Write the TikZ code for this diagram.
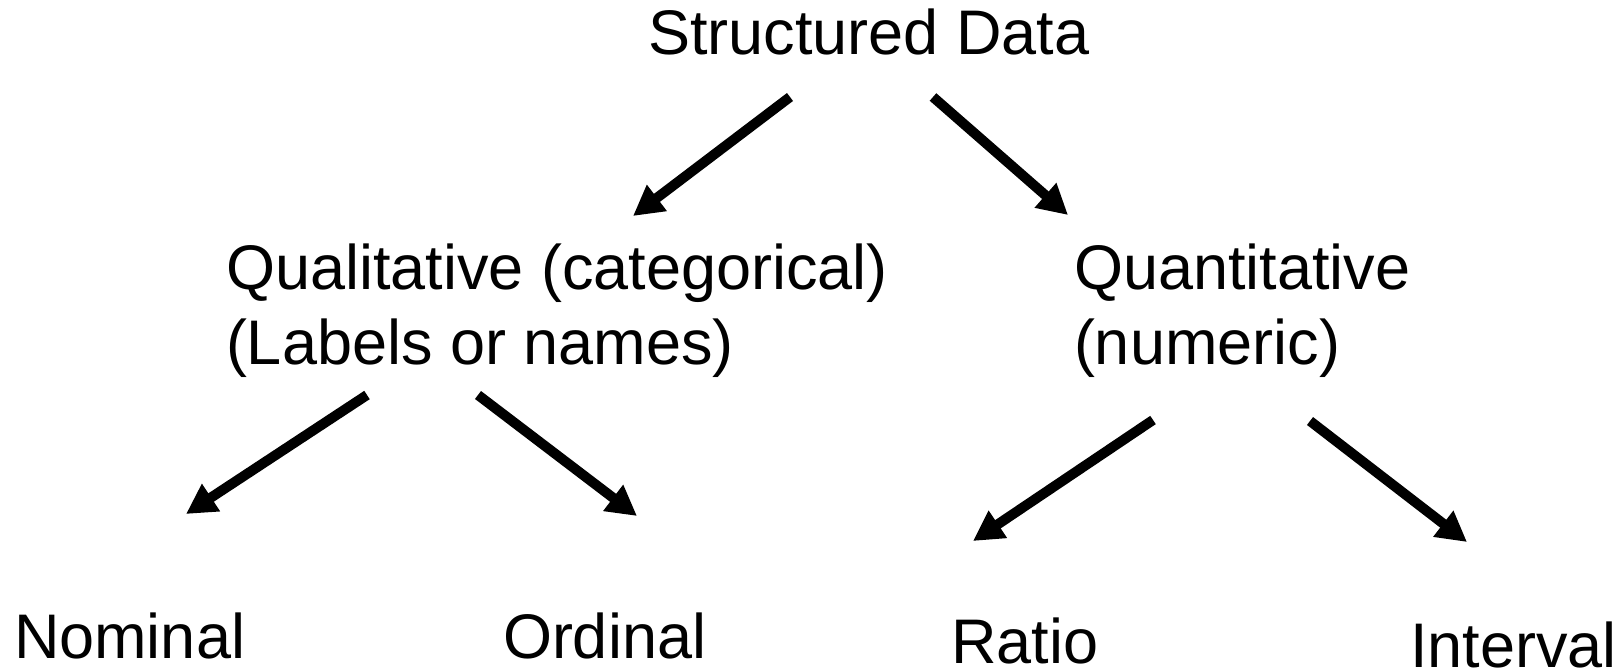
\documentclass[tikz,border=0pt]{standalone}
\usepackage{fontspec}
\setmainfont{Liberation Sans}
\usetikzlibrary{arrows.meta}
\begin{document}
\begin{tikzpicture}[x=1pt,y=-1pt,
  lbl/.style={anchor=base west,inner sep=0pt,outer sep=0pt,font=\fontsize{63}{75}\selectfont,align=left},
  arr/.style={line width=10pt,-{Triangle[length=30pt,width=31pt]}}]
\useasboundingbox[fill=white] (0,0) rectangle (1622,671);
\node[lbl] (sd) at (648,55) {Structured Data};
\node[lbl] (ql) at (226,364) {Qualitative (categorical)\\(Labels or names)};
\node[lbl] (qn) at (1074,364) {Quantitative\\(numeric)};
\node[lbl] (nom) at (14,658) {Nominal};
\node[lbl] (ord) at (503,658) {Ordinal};
\node[lbl] (rat) at (951,663) {Ratio};
\node[lbl] (int) at (1410,667) {Interval};
\coordinate (a1s) at (790,97);  \coordinate (a1e) at (633,216);
\coordinate (a2s) at (933,97);  \coordinate (a2e) at (1068,215);
\coordinate (a3s) at (367,395); \coordinate (a3e) at (186,514);
\coordinate (a4s) at (478,395); \coordinate (a4e) at (637,516);
\coordinate (a5s) at (1153,420); \coordinate (a5e) at (973,541);
\coordinate (a6s) at (1310,421); \coordinate (a6e) at (1467,542);
\draw[arr] (a1s) -- (a1e);
\draw[arr] (a2s) -- (a2e);
\draw[arr] (a3s) -- (a3e);
\draw[arr] (a4s) -- (a4e);
\draw[arr] (a5s) -- (a5e);
\draw[arr] (a6s) -- (a6e);
\end{tikzpicture}
\end{document}
